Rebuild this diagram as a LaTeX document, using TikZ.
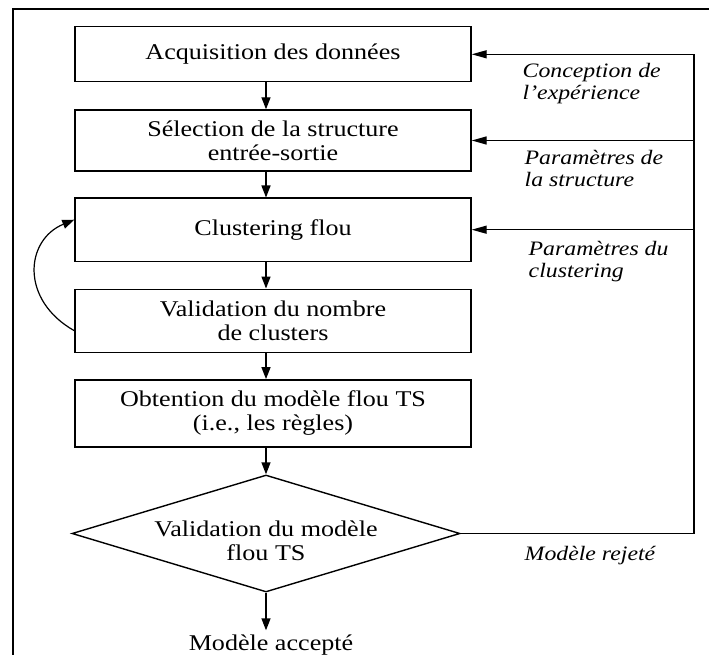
\documentclass[tikz,border=0pt]{standalone}
\usepackage{fontspec}
\setmainfont{Liberation Serif}[FakeStretch=1.16]
\usetikzlibrary{shapes.geometric,arrows.meta}
\begin{document}
\begin{tikzpicture}[x=1pt,y=-1pt,
  line width=1.4pt,
  mainfont/.style={font=\fontsize{22.5}{24}\selectfont},
  box/.style={draw, mainfont, minimum width=396pt, align=center, inner sep=0pt},
  lbl/.style={align=left, inner sep=0pt, font=\fontsize{20.5}{21.5}\selectfont\itshape},
  arr/.style={-{Triangle[length=12pt,width=9pt]}},
  harr/.style={-{Triangle[length=15pt,width=8pt]}}
]
\useasboundingbox (0,0) rectangle (709,655);
\begin{scope}
\clip (0,0) rectangle (709,655);
\draw (13,9) rectangle (730,680);
\end{scope}

\node[box, minimum height=55pt] (a) at (273,54.3) {Acquisition des données};
\node[box, minimum height=61pt] (b) at (273,140.5) {Sélection de la structure\\entrée-sortie};
\node[box, minimum height=63pt] (c) at (273,229.7) {Clustering flou};
\node[box, minimum height=63pt] (v) at (273,320.7) {Validation du nombre\\de clusters};
\node[box, minimum height=67pt] (o) at (273,413.3) {Obtention du modèle flou TS\\(i.e., les règles)};
\node[draw, diamond, aspect=3.3, minimum width=388pt, minimum height=117pt, inner sep=0pt] (d) at (266,533.5) {};
\node[mainfont, align=center, inner sep=0pt] (dt) at ([yshift=-7pt]d.center) {Validation du modèle\\flou TS};
\node[mainfont, anchor=base] (acc) at (271,650) {Modèle accepté};

\node[lbl, anchor=north west] (l1) at (522,63) {Conception de\\l'expérience};
\node[lbl, anchor=north west] (l2) at (524,150) {Paramètres de\\la structure};
\node[lbl, anchor=north west] (l3) at (528,241) {Paramètres du\\clustering};
\node[lbl, anchor=base west] (l4) at (524,560) {Modèle rejeté};

\coordinate (axis) at (266,0);
\coordinate (corner) at (694,533.5);

\draw[arr] (a.south -| axis) -- (b.north -| axis);
\draw[arr] (b.south -| axis) -- (c.north -| axis);
\draw[arr] (c.south -| axis) -- (v.north -| axis);
\draw[arr] (v.south -| axis) -- (o.north -| axis);
\draw[arr] (o.south -| axis) -- (d.north);
\draw[arr] (d.south) -- (d.south |- acc.north);

\draw[harr] (d.east) -- (corner) |- (a.east);
\draw[harr] (corner |- b.east) -- (b.east);
\draw[harr] (corner |- c.east) -- (c.east);

\draw[arr, line width=1.2pt] ([yshift=-10pt]v.west) .. controls (20,300) and (25,240) .. ([yshift=10pt]c.west);
\end{tikzpicture}
\end{document}
